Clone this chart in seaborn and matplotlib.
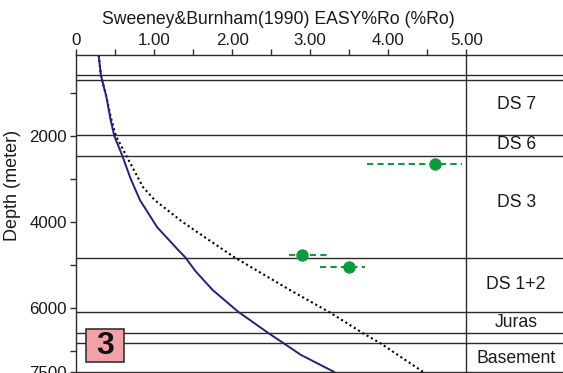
import numpy as np
import pandas as pd
import matplotlib
matplotlib.use("Agg")
import matplotlib.pyplot as plt
from matplotlib.patches import Rectangle
import seaborn as sns

# Modelled vitrinite reflectance profiles (EASY%Ro)
model_a_depth = [120, 600, 1100, 1600, 2000, 2450, 3000, 3500, 4130, 4680, 4830,
                 5150, 5590, 6100, 6600, 6830, 7100, 7500]
model_a_ro = [0.29, 0.32, 0.39, 0.44, 0.49, 0.59, 0.70, 0.82, 1.04, 1.32, 1.40,
              1.53, 1.75, 2.08, 2.47, 2.66, 2.88, 3.31]

model_b_depth = [120, 600, 1100, 1600, 2000, 2450, 3200, 3500, 4000, 4400, 4830,
                 5590, 6100, 6600, 6830, 7500]
model_b_ro = [0.29, 0.32, 0.39, 0.45, 0.51, 0.64, 0.86, 1.01, 1.36, 1.68, 2.03,
              2.74, 3.24, 3.68, 3.90, 4.45]

# Measured samples with reflectance range
sample_depth = [2660, 4780, 5045]
sample_ro = [4.60, 2.90, 3.50]
sample_lo = [3.73, 2.73, 3.12]
sample_hi = [4.94, 3.21, 3.70]

# Stratigraphic units
boundaries = [595, 712, 1980, 2460, 4850, 6100, 6600, 6825]
unit_names = ["DS 7", "DS 6", "DS 3", "DS 1+2", "Juras", "Basement"]
unit_depths = [1263, 2193, 3565, 5470, 6355, 7190]

sns.set_style("ticks")
plt.rcParams["font.family"] = ["Liberation Sans", "DejaVu Sans"]

fig = plt.figure(figsize=(5.63, 3.73), dpi=100)
ax = fig.add_axes([76 / 563, 1 - 372 / 373, 1 - 76 / 563, (372 - 55) / 373])

line_col = "#2b2b2b"
text_col = "#1a1a1a"
for b in boundaries:
    ax.axhline(b, color=line_col, lw=1.0, zorder=1)
ax.axvline(5.0, color=line_col, lw=1.0, zorder=1)

df_a = pd.DataFrame({"ro": model_a_ro, "depth": model_a_depth})
df_b = pd.DataFrame({"ro": model_b_ro, "depth": model_b_depth})
sns.lineplot(data=df_b, x="ro", y="depth", sort=False, estimator=None,
             color="black", lw=1.5, linestyle=(0, (1, 1.4)), ax=ax, zorder=2)
sns.lineplot(data=df_a, x="ro", y="depth", sort=False, estimator=None,
             color="#22227a", lw=1.4, ax=ax, zorder=3)

green = "#0f9a3e"
ax.hlines(sample_depth, sample_lo, sample_hi, colors=green, lw=1.5,
          linestyles=(0, (3, 2)), zorder=4)
sns.scatterplot(x=sample_ro, y=sample_depth, color=green, s=80,
                edgecolor=green, linewidth=0, ax=ax, zorder=5)

for name, d in zip(unit_names, unit_depths):
    ax.text(5.64, d, name, ha="center", va="center", fontsize=12.7, color=text_col)

ax.set_xlim(0, 6.24)
ax.set_ylim(7500, 120)
ax.xaxis.tick_top()
ax.set_xticks([0, 1, 2, 3, 4, 5])
ax.set_xticklabels(["0", "1.00", "2.00", "3.00", "4.00", "5.00"])
ax.set_xticks([0.5, 1.5, 2.5, 3.5, 4.5], minor=True)
ax.set_yticks([2000, 4000, 6000, 7500])
ax.set_yticklabels(["2000", "4000", "6000", "7500"])
ax.set_yticks([1000, 3000, 5000, 7000], minor=True)
ax.tick_params(axis="both", which="both", direction="out", length=4.5,
               width=1.0, color=line_col, labelsize=12.2, labelcolor=text_col)
ax.tick_params(axis="x", which="both", top=True, bottom=False, pad=0.8)
ax.tick_params(axis="y", which="both", left=True, right=False, pad=2.2)
ax.set_xlabel("")
ax.set_ylabel("")
ax.spines["right"].set_visible(False)
for side in ["top", "left", "bottom"]:
    ax.spines[side].set_color(line_col)
    ax.spines[side].set_linewidth(1.0)
ax.set_facecolor("white")

fig.text(278 / 563, 1 - 20 / 373, "Sweeney&Burnham(1990) EASY%Ro (%Ro)",
         ha="center", va="center", fontsize=12.7, color=text_col)
fig.text(13 / 563, 1 - 185 / 373, "Depth (meter)", rotation=90,
         ha="center", va="center", fontsize=13, color=text_col)

# Figure number badge
badge = Rectangle((86 / 563, 1 - 362 / 373), (124 - 86) / 563, (362 - 329) / 373,
                  transform=fig.transFigure, facecolor="#f2a1a8",
                  edgecolor="#333333", lw=1.2, zorder=10)
fig.patches.append(badge)
fig.text(105 / 563, 1 - 346 / 373, "3", ha="center", va="center",
         fontsize=23, fontweight="bold", color="#111111", zorder=11)

fig.savefig("out.png", dpi=100)
